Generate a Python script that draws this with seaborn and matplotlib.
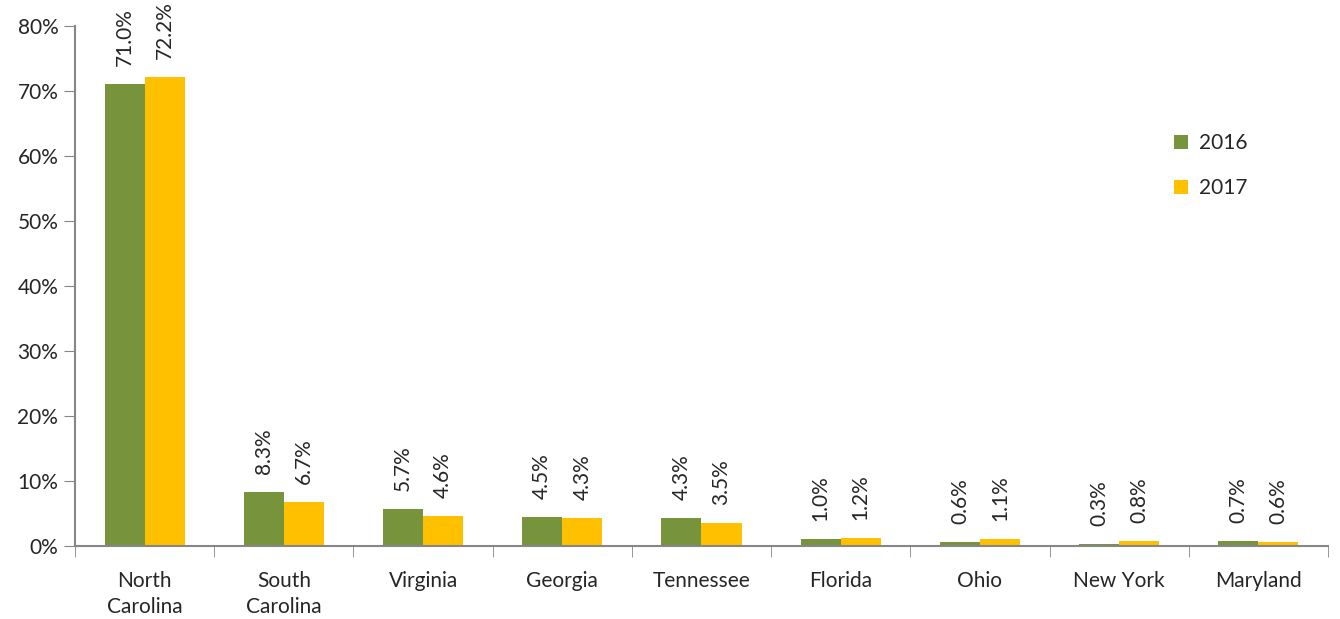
import matplotlib
matplotlib.use("Agg")
import matplotlib.pyplot as plt
from matplotlib.ticker import FixedLocator, FuncFormatter
import pandas as pd
import seaborn as sns

# data
states = ["North\nCarolina", "South\nCarolina", "Virginia", "Georgia", "Tennessee",
          "Florida", "Ohio", "New York", "Maryland"]
share_2016 = [71.0, 8.3, 5.7, 4.5, 4.3, 1.0, 0.6, 0.3, 0.7]
share_2017 = [72.2, 6.7, 4.6, 4.3, 3.5, 1.2, 1.1, 0.8, 0.6]
years = ["2016", "2017"]
colors = ["#77933C", "#FFC000"]

df = pd.DataFrame({
    "state": states * 2,
    "share": share_2016 + share_2017,
    "year": [years[0]] * len(states) + [years[1]] * len(states),
})

sns.set_style("white")
plt.rcParams["font.family"] = ["Lato", "DejaVu Sans"]

fig = plt.figure(figsize=(13.4, 6.19), dpi=100)
ax = fig.add_axes([0.056, 0.118, 0.935, 0.840])

sns.barplot(data=df, x="state", y="share", hue="year", palette=colors,
            width=0.575, saturation=1, ax=ax, errorbar=None, linewidth=0)

# value labels, rotated
for cont in ax.containers:
    ax.bar_label(cont, fmt="%.1f%%", rotation=90, padding=13, fontsize=15)

ax.set_ylim(0, 80)
ax.set_xlim(-0.5, len(states) - 0.5)
ax.set_yticks(range(0, 81, 10))
ax.yaxis.set_major_formatter(FuncFormatter(lambda v, p: f"{v:.0f}%"))
ax.tick_params(axis="y", labelsize=15, length=8, color="#868686", direction="out", left=True, pad=4)
ax.tick_params(axis="x", which="major", labelsize=15, length=0, pad=18)
for lbl in ax.get_xticklabels():
    lbl.set_linespacing(1.35)
ax.xaxis.set_minor_locator(FixedLocator([i - 0.5 for i in range(len(states) + 1)]))
ax.tick_params(axis="x", which="minor", length=8, color="#868686", direction="out", bottom=True)
ax.set_xlabel("")
ax.set_ylabel("")

for s in ["top", "right"]:
    ax.spines[s].set_visible(False)
for s in ["left", "bottom"]:
    ax.spines[s].set_color("#868686")
    ax.spines[s].set_linewidth(1.5)

ax.legend(loc="upper left", bbox_to_anchor=(0.862, 0.815), bbox_transform=fig.transFigure,
          frameon=False, fontsize=15, handlelength=0.7, handleheight=0.7,
          handletextpad=0.5, labelspacing=1.2)

fig.savefig("out.png", dpi=100)
